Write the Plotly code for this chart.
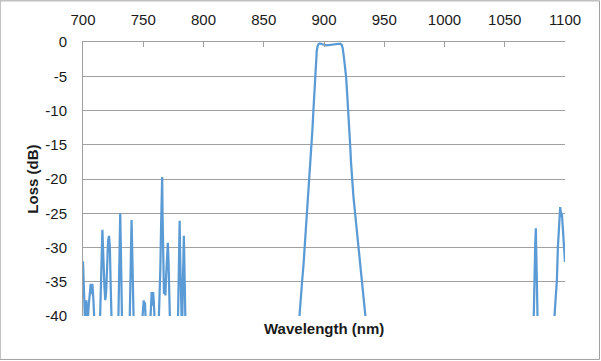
import plotly.graph_objects as go

# Spurious peaks, 700-785 nm (values below -40 dB fall outside the axis)
wl_left = [700.0, 700.6, 701.2, 701.6, 702.2, 702.8, 703.5, 704.0, 704.7, 705.5,
           706.4, 707.1, 707.8, 708.6, 709.7, 710.3, 713.6, 714.2, 715.0, 715.6,
           716.1, 716.6, 717.2, 717.8, 718.5, 719.2, 720.0, 720.8, 721.6, 722.3,
           722.9, 723.6, 724.2, 729.0, 729.6, 730.3, 730.9, 731.3, 731.9, 732.5,
           738.4, 739.2, 739.8, 740.3, 740.8, 741.5, 742.3, 747.8, 749.0, 749.8,
           750.4, 750.9, 751.4, 752.0, 752.6, 755.0, 755.8, 756.4, 757.0, 757.6,
           758.2, 758.8, 759.5, 760.2, 762.3, 763.1, 763.6, 764.2, 764.8, 765.3,
           765.7, 766.0, 766.3, 766.7, 767.2, 767.8, 768.4, 768.9, 769.6, 770.4,
           770.9, 771.5, 772.1, 772.6, 778.5, 779.2, 779.8, 780.2, 780.6, 781.1,
           781.6, 782.2, 782.7, 783.2, 783.7, 784.1, 784.7, 785.3]
loss_left = [-32.0, -34.5, -38.0, -40.5, -39.5, -37.7, -39.5, -40.5, -38.6, -36.5,
             -35.3, -36.8, -35.3, -37.5, -40.5, -44.0, -44.0, -40.0, -33.0, -28.5,
             -27.4, -30.0, -35.5, -35.8, -37.7, -36.5, -33.0, -29.0, -28.3, -30.0,
             -35.0, -39.5, -44.0, -44.0, -38.0, -29.0, -25.0, -29.0, -37.0, -42.0,
             -44.0, -37.0, -30.0, -26.0, -30.0, -37.0, -43.0, -44.0, -40.5, -38.2,
             -37.7, -39.0, -38.0, -40.5, -44.0, -44.0, -40.0, -37.0, -36.5, -38.5,
             -36.5, -38.0, -41.0, -44.0, -44.0, -40.0, -37.0, -33.0, -27.0, -22.0,
             -19.7, -25.0, -30.0, -33.5, -36.8, -36.2, -37.0, -34.5, -31.0, -29.3,
             -31.5, -36.0, -39.5, -44.0, -44.0, -38.0, -30.0, -26.1, -31.0, -38.0,
             -43.0, -43.0, -37.0, -31.0, -28.3, -32.0, -39.0, -44.0]

# Main pass band around 905 nm
wl_band = [878.8, 879.5, 880.5, 881.8, 883.0, 884.0, 885.0, 885.8, 886.7, 887.5,
           888.7, 889.9, 890.5, 891.2, 891.9, 892.6, 893.3, 894.0, 894.7, 895.5,
           896.5, 898.0, 900.0, 902.0, 904.0, 906.0, 908.0, 910.0, 912.0, 913.5,
           914.7, 915.5, 916.5, 917.4, 918.3, 919.2, 920.2, 921.0, 921.7, 922.4,
           923.1, 924.4, 925.8, 927.3, 928.8, 930.3, 931.7, 933.2, 934.7, 935.5]
loss_band = [-42.0, -40.0, -38.0, -35.0, -32.5, -30.0, -27.3, -25.0, -22.5, -20.0,
             -17.5, -15.0, -12.5, -10.0, -7.5, -5.0, -2.8, -1.3, -0.6, -0.3,
             -0.2, -0.25, -0.4, -0.5, -0.45, -0.4, -0.35, -0.3, -0.25, -0.25,
             -0.4, -0.9, -2.2, -3.5, -5.0, -7.5, -10.0, -12.5, -15.0, -17.5,
             -20.0, -22.5, -25.0, -27.5, -30.0, -32.5, -35.0, -37.5, -40.0, -42.0]

# Spurious peaks, 1070-1100 nm
wl_right = [1073.5, 1073.9, 1074.5, 1075.3, 1075.8, 1076.2, 1076.7, 1077.2, 1077.6,
            1091.0, 1091.3, 1092.2, 1093.2, 1094.1, 1094.8, 1095.4, 1096.0, 1096.5,
            1096.9, 1097.4, 1098.0, 1098.8, 1099.5, 1100.0]
loss_right = [-45.0, -40.0, -36.0, -29.5, -27.2, -30.0, -36.0, -40.0, -44.0,
              -44.0, -40.0, -37.5, -35.0, -30.0, -27.5, -25.5, -24.1, -24.8,
              -25.5, -25.0, -26.5, -28.7, -30.5, -32.1]

x_ticks = [700, 750, 800, 850, 900, 950, 1000, 1050, 1100]
y_ticks = [0, -5, -10, -15, -20, -25, -30, -35, -40]

wavelength = wl_left + wl_band + wl_right
loss = loss_left + loss_band + loss_right

fig = go.Figure()
fig.add_trace(go.Scatter(x=wavelength, y=loss, mode="lines",
                         line=dict(color="#5B9BD5", width=2.25), showlegend=False))

font = "Liberation Sans, Arial, sans-serif"
grid = "#A0A0A0"

fig.update_layout(
    width=601, height=361,
    margin=dict(l=83, r=36, t=42, b=45),
    paper_bgcolor="white", plot_bgcolor="white",
    font=dict(family=font, size=15, color="#1a1a1a"),
    xaxis=dict(range=[700, 1100], side="top", tickvals=x_ticks,
               ticktext=[str(v) for v in x_ticks],
               showgrid=False, zeroline=False, showline=True, linecolor=grid,
               linewidth=1, ticks="inside", ticklen=5, tickcolor=grid,
               ticklabelstandoff=10),
    yaxis=dict(range=[-40, 0], tickvals=y_ticks,
               ticktext=[str(v) for v in y_ticks],
               showgrid=True, gridcolor=grid, gridwidth=1, zeroline=False,
               showline=True, linecolor=grid, linewidth=1, ticks="",
               ticklabelstandoff=12),
    annotations=[
        dict(text="<b>Wavelength (nm)</b>", xref="paper", yref="paper",
             x=0.5, y=-0.047, xanchor="center", yanchor="middle",
             showarrow=False, font=dict(family=font, size=15, color="#1a1a1a")),
        dict(text="<b>Loss (dB)</b>", xref="paper", yref="paper",
             x=-0.1065, y=0.5, xanchor="center", yanchor="middle",
             textangle=-90, showarrow=False,
             font=dict(family=font, size=15, color="#1a1a1a")),
    ],
    shapes=[dict(type="rect", xref="paper", yref="paper",
                 x0=-0.1719, x1=1.0716, y0=-0.1586, y1=1.1502,
                 line=dict(color="#A0A0A0", width=1), layer="below")],
)

fig.write_html("out.html", config={"displayModeBar": False},
               post_script="document.body.style.margin='0';document.body.style.overflow='hidden';")
